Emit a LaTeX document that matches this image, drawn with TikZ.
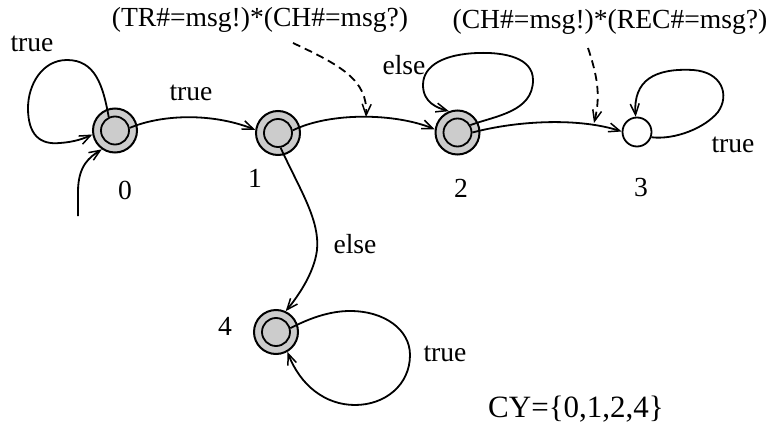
\documentclass[tikz,border=0pt]{standalone}
\usepackage{fontspec}
\setmainfont{Liberation Serif}
\usetikzlibrary{arrows.meta}
\definecolor{stategray}{RGB}{204,204,204}
\begin{document}
\begin{tikzpicture}[x=1pt,y=-1pt,
  every node/.style={font=\fontsize{27.6pt}{32pt}\selectfont, inner sep=0pt},
  outerstate/.style={circle, draw, line width=2pt, fill=stategray, minimum size=44pt},
  innerstate/.style={circle, draw, line width=1.8pt, fill=stategray, minimum size=28pt},
  plainstate/.style={circle, draw, line width=1.8pt, fill=white, minimum size=29pt},
  edge/.style={line width=1.8pt, -{Straight Barb[length=11pt,width=9pt,line width=1.5pt]}},
  note/.style={edge, dash pattern=on 8pt off 5pt}
]
\useasboundingbox (0,0) rectangle (771,428);

% states
\node[outerstate] (n0) at (115,130.5) {};
\node[innerstate] (n0i) at (115,130.5) {};
\node[outerstate] (n1) at (278,133) {};
\node[innerstate] (n1i) at (278,133) {};
\node[outerstate] (n2) at (457.5,132.5) {};
\node[innerstate] (n2i) at (457.5,132.5) {};
\node[plainstate] (n3) at (637,132) {};
\node[outerstate] (n4) at (276,332) {};
\node[innerstate] (n4i) at (276,332) {};

% state labels
\node (l0) at (125,190) {0};
\node (l1) at (255,178) {1};
\node (l2) at (461,188) {2};
\node (l3) at (641,187) {3};
\node (l4) at (225,326) {4};

% edge labels
\node (t0) at (32,44) {true};
\node (t01) at (191,93) {true};
\node (e2) at (404,65) {else};
\node (t3) at (733,145) {true};
\node (e14) at (355,244) {else};
\node (t4) at (445,354) {true};
\node[font=\fontsize{31pt}{36pt}\selectfont] (cy) at (576,409) {CY=\{0,1,2,4\}};
\node (a1) at (260,20) {(TR\#=msg!)*(CH\#=msg?)};
\node (a2) at (610,22) {(CH\#=msg!)*(REC\#=msg?)};

% coordinates
\coordinate (init) at (78,216);
\coordinate (d1s) at (293,43);
\coordinate (d1e) at (366,117);
\coordinate (d2s) at (588,48);
\coordinate (d2e) at (594,123);

% initial arrow
\draw[edge] (init) -- (78,192) .. controls (78,165) and (90,157) .. (n0.235);

% self loop 0
\draw[edge] (n0i.115) .. controls (103,85) and (95,60) .. (67,60)
  .. controls (42,60) and (28,85) .. (28,108)
  .. controls (28,135) and (40,145) .. (60,143)
  .. controls (75,142) and (85,138) .. (n0.190);

% 0 -> 1
\draw[edge] (n0i.10) .. controls (160,115) and (210,112) .. (n1.172);
% 1 -> 2
\draw[edge] (n1i.10) .. controls (330,112) and (395,113) .. (n2.172);
% 2 -> 3
\draw[edge] (n2i.0) .. controls (520,120) and (580,118) .. (n3.178);

% self loop 2
\draw[edge] (n2i.30) .. controls (495,116) and (533,112) .. (533,80)
  .. controls (533,58) and (505,52) .. (478,53)
  .. controls (445,54) and (423,65) .. (423,85)
  .. controls (423,103) and (438,108) .. (n2.112);

% self loop 3
\draw[edge] (n3.-20) .. controls (675,140) and (705,128) .. (718,112)
  .. controls (730,95) and (722,72) .. (693,70)
  .. controls (655,68) and (633,80) .. (n3.95);

% 1 -> 4
\draw[edge] (n1i.-80) .. controls (300,190) and (320,220) .. (317,250)
  .. controls (314,275) and (295,300) .. (n4.65);

% self loop 4
\draw[edge] (n4i.15) .. controls (310,318) and (330,311) .. (350,311)
  .. controls (385,311) and (410,330) .. (410,355)
  .. controls (410,385) and (385,405) .. (355,405)
  .. controls (325,405) and (300,385) .. (n4.-60);

% dashed annotations
\draw[note] (d1s) .. controls (340,65) and (368,80) .. (d1e);
\draw[note] (d2s) .. controls (597,75) and (601,95) .. (d2e);
\end{tikzpicture}
\end{document}
